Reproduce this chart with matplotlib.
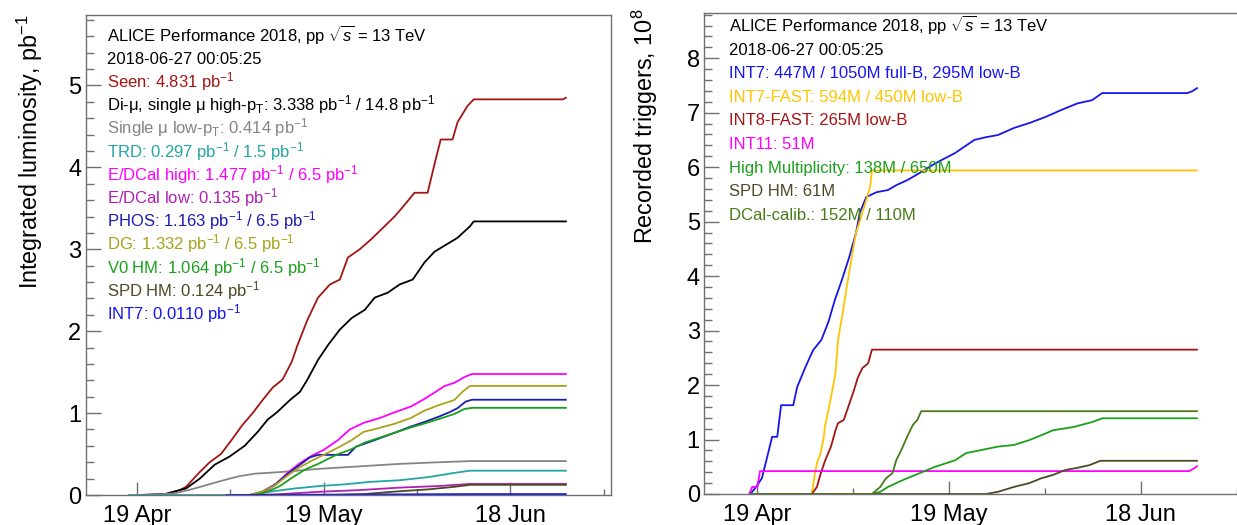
"""
Luminosidad integrada y triggers registrados, ALICE pp 2018 (hasta el 27 de junio).
Dos paneles lado a lado, estilo ROOT.
"""

import numpy as np
import matplotlib
matplotlib.use("Agg")  # sin entorno gráfico
import matplotlib.pyplot as plt
import matplotlib.dates as mdates
from matplotlib.ticker import FixedLocator, MultipleLocator

plt.rcParams["font.family"] = ["Liberation Sans", "DejaVu Sans"]
plt.rcParams["mathtext.fontset"] = "custom"
plt.rcParams["mathtext.rm"] = "Liberation Sans"
plt.rcParams["mathtext.it"] = "Liberation Sans:italic"
plt.rcParams["mathtext.bf"] = "Liberation Sans:bold"

# días contados desde el 19 de abril de 2018
T0 = np.datetime64("2018-04-19T00:00")
MAJOR_DAYS = [0, 30, 60]          # 19 Apr, 19 May, 18 Jun
MINOR_DAYS = [15, 45, 75]
X_RANGE = [-8.25, 76.15]

# ---- panel izquierdo: luminosidad integrada (pb^-1) ----
SEEN_D = [0.5, 4.5, 6.9, 7.9, 10.1, 11.7, 13.5, 15.2, 16.9, 18.6, 20.2, 21.8, 23.4, 24.9,
          25.8, 27.4, 29.1, 31.0, 32.6, 33.9, 35.8, 37.6, 39.5, 41.4, 43.3, 44.6, 46.7,
          48.0, 48.8, 50.7, 51.5, 53.1, 54.1, 68.4, 68.9]
SEEN_V = [0, 0.01, 0.06, 0.1, 0.28, 0.4, 0.5, 0.67, 0.85, 1.0, 1.16, 1.31, 1.41, 1.63,
          1.83, 2.14, 2.41, 2.57, 2.63, 2.9, 3.0, 3.12, 3.26, 3.4, 3.57, 3.69, 3.69,
          4.1, 4.34, 4.34, 4.55, 4.75, 4.83, 4.83, 4.85]

DIMU_D = [0.5, 4.5, 7.9, 10.1, 12.5, 14.9, 17.3, 19.4, 21.0, 22.5, 24.6, 26.2, 27.4, 29.1,
          30.7, 32.6, 34.5, 36.6, 38.2, 40.3, 42.2, 44.3, 46.2, 47.8, 49.1, 51.5, 53.5,
          54.1, 68.9]
DIMU_V = [0, 0.01, 0.08, 0.2, 0.37, 0.47, 0.6, 0.77, 0.92, 1.01, 1.16, 1.26, 1.41, 1.65,
          1.83, 2.02, 2.16, 2.26, 2.41, 2.47, 2.57, 2.63, 2.84, 2.97, 3.03, 3.14, 3.28,
          3.34, 3.34]

MULOW_D = [2.0, 6.1, 9.3, 12.5, 14.9, 16.5, 18.9, 23.0, 29.4, 35.8, 42.2, 48.6, 53.5, 68.9]
MULOW_V = [0, 0.02, 0.08, 0.15, 0.2, 0.23, 0.26, 0.28, 0.32, 0.35, 0.38, 0.40, 0.414, 0.414]

TRD_D = [-1.3, 18.1, 21.3, 25.4, 29.4, 33.4, 37.4, 42.2, 47.0, 51.0, 53.5, 68.9]
TRD_V = [0, 0, 0.04, 0.08, 0.11, 0.13, 0.16, 0.18, 0.22, 0.27, 0.297, 0.297]

EMCH_D = [18.6, 20.1, 22.2, 24.2, 26.2, 28.1, 30.0, 32.3, 34.2, 36.4, 39.0, 41.4, 44.0,
          45.9, 47.8, 49.4, 51.0, 52.6, 53.8, 68.9]
EMCH_V = [0, 0.02, 0.12, 0.27, 0.39, 0.48, 0.55, 0.67, 0.8, 0.88, 0.94, 1.01, 1.08,
          1.16, 1.25, 1.33, 1.37, 1.44, 1.477, 1.477]

EMCL_D = [18.9, 23.0, 29.4, 35.8, 42.2, 48.6, 53.5, 68.9]
EMCL_V = [0, 0.01, 0.04, 0.06, 0.09, 0.11, 0.135, 0.135]

PHOS_D = [18.1, 20.1, 22.2, 24.6, 26.2, 27.8, 29.1, 33.9, 35.2, 38.2, 41.4, 43.8, 46.5,
          48.6, 50.2, 51.5, 52.8, 53.8, 68.9]
PHOS_V = [0, 0.04, 0.13, 0.28, 0.37, 0.46, 0.49, 0.49, 0.59, 0.67, 0.76, 0.83, 0.9,
          0.96, 1.01, 1.06, 1.14, 1.163, 1.163]

DG_D = [18.1, 20.1, 22.2, 24.6, 26.2, 28.1, 30.0, 32.6, 34.5, 36.4, 39.0, 41.4, 44.0,
        46.2, 48.6, 51.0, 52.3, 53.5, 68.9]
DG_V = [0, 0.04, 0.12, 0.26, 0.34, 0.42, 0.49, 0.59, 0.67, 0.77, 0.82, 0.87, 0.94,
        1.03, 1.10, 1.16, 1.26, 1.332, 1.332]

V0HM_D = [18.9, 21.0, 23.0, 24.9, 27.0, 29.4, 32.0, 34.2, 36.6, 39.0, 41.4, 43.8, 46.5,
          48.6, 51.0, 52.6, 53.8, 68.9]
V0HM_V = [0, 0.04, 0.11, 0.21, 0.31, 0.39, 0.49, 0.55, 0.64, 0.7, 0.76, 0.82, 0.88,
          0.93, 0.99, 1.05, 1.064, 1.064]

SPDL_D = [18.9, 31.5, 36.3, 41.1, 47.0, 51.0, 53.5, 68.9]
SPDL_V = [0, 0, 0.01, 0.04, 0.07, 0.1, 0.124, 0.124]

INT7L_D = [14.4, 53.5, 68.9]
INT7L_V = [0, 0.011, 0.011]

# ---- panel derecho: triggers registrados (10^8) ----
INT7_D = [-1.0, -0.1, 0.8, 1.5, 2.4, 3.2, 3.8, 5.7, 6.3, 7.6, 8.8, 10.1, 11.2, 12.2,
          13.3, 14.4, 15.5, 16.1, 17.1, 18.7, 20.5, 21.8, 23.5, 25.4, 27.9, 31.0, 34.0,
          35.8, 37.7, 40.2, 42.6, 45.1, 47.6, 50.1, 52.4, 54.0, 67.3, 68.0, 68.8]
INT7_V = [0, 0.13, 0.29, 0.62, 1.05, 1.05, 1.63, 1.63, 1.96, 2.33, 2.64, 2.83, 3.16, 3.56,
          3.93, 4.33, 4.79, 5.16, 5.45, 5.54, 5.58, 5.67, 5.76, 5.89, 6.07, 6.26, 6.5,
          6.55, 6.59, 6.72, 6.81, 6.92, 7.05, 7.17, 7.23, 7.36, 7.36, 7.39, 7.45]

FAST7_D = [8.6, 9.1, 9.4, 9.9, 10.4, 10.7, 11.2, 11.6, 12.3, 12.7, 13.5, 14.1, 14.9,
           15.5, 16.5, 17.1, 17.7, 18.0, 68.8]
FAST7_V = [0, 0.38, 0.57, 0.72, 0.99, 1.27, 1.54, 1.78, 2.22, 2.83, 3.38, 3.83, 4.39,
           4.79, 5.16, 5.39, 5.63, 5.94, 5.94]

FAST8_D = [8.6, 9.4, 10.0, 10.7, 11.6, 12.3, 12.7, 13.6, 14.3, 15.2, 15.8, 16.5, 17.4,
           18.0, 68.8]
FAST8_V = [0, 0.13, 0.38, 0.62, 0.87, 1.17, 1.3, 1.36, 1.6, 1.91, 2.14, 2.31, 2.4,
           2.65, 2.65]

INT11_D = [-1.2, -0.7, 0.1, 0.5, 67.6, 68.2, 68.8]
INT11_V = [0, 0.13, 0.13, 0.42, 0.42, 0.46, 0.51]

HM_D = [18.0, 19.3, 20.5, 22.9, 25.4, 27.9, 31.0, 32.7, 35.2, 37.7, 40.2, 42.6, 44.5,
        46.3, 49.5, 52.4, 54.0, 68.8]
HM_V = [0, 0.04, 0.13, 0.26, 0.38, 0.5, 0.62, 0.75, 0.81, 0.87, 0.9, 0.99, 1.08,
        1.17, 1.23, 1.32, 1.39, 1.39]

SPDR_D = [-1.0, 35.8, 37.7, 40.2, 42.6, 44.5, 46.3, 48.2, 50.1, 52.0, 53.7, 68.8]
SPDR_V = [0, 0, 0.04, 0.13, 0.2, 0.29, 0.35, 0.44, 0.48, 0.53, 0.61, 0.61]

DCAL_D = [-1.0, 18.0, 19.3, 20.2, 21.2, 21.8, 22.6, 23.5, 24.4, 25.1, 25.7, 68.8]
DCAL_V = [0, 0, 0.13, 0.29, 0.38, 0.62, 0.81, 1.05, 1.27, 1.36, 1.52, 1.52]

# colores tipo ROOT
C_DRED = "#a31515"
C_GRAY = "#858585"
C_TEAL = "#22a5a5"
C_MAG = "#ff00ff"
C_PURP = "#b020b0"
C_DBLUE = "#1c1cb0"
C_OLIVE = "#aaa21a"
C_GREEN = "#1aa01a"
C_DOLIVE = "#4d4a26"
C_BLUE = "#1515ee"
C_GOLD = "#ffc400"
C_DCAL = "#487a18"
FRAME = "#707070"

W, H = 1237, 525

LEFT_SERIES = [
    (SEEN_D, SEEN_V, C_DRED, r"Seen: 4.831 pb$^{-1}$"),
    (DIMU_D, DIMU_V, "black", r"Di-μ, single μ high-p$_{\mathrm{T}}$: 3.338 pb$^{-1}$ / 14.8 pb$^{-1}$"),
    (MULOW_D, MULOW_V, C_GRAY, r"Single μ low-p$_{\mathrm{T}}$: 0.414 pb$^{-1}$"),
    (TRD_D, TRD_V, C_TEAL, r"TRD: 0.297 pb$^{-1}$ / 1.5 pb$^{-1}$"),
    (EMCH_D, EMCH_V, C_MAG, r"E/DCal high: 1.477 pb$^{-1}$ / 6.5 pb$^{-1}$"),
    (EMCL_D, EMCL_V, C_PURP, r"E/DCal low: 0.135 pb$^{-1}$"),
    (PHOS_D, PHOS_V, C_DBLUE, r"PHOS: 1.163 pb$^{-1}$ / 6.5 pb$^{-1}$"),
    (DG_D, DG_V, C_OLIVE, r"DG: 1.332 pb$^{-1}$ / 6.5 pb$^{-1}$"),
    (V0HM_D, V0HM_V, C_GREEN, r"V0 HM: 1.064 pb$^{-1}$ / 6.5 pb$^{-1}$"),
    (SPDL_D, SPDL_V, C_DOLIVE, r"SPD HM: 0.124 pb$^{-1}$"),
    (INT7L_D, INT7L_V, C_BLUE, r"INT7: 0.0110 pb$^{-1}$"),
]

RIGHT_SERIES = [
    (INT7_D, INT7_V, C_BLUE, "INT7: 447M / 1050M full-B, 295M low-B"),
    (FAST7_D, FAST7_V, C_GOLD, "INT7-FAST: 594M / 450M low-B"),
    (FAST8_D, FAST8_V, C_DRED, "INT8-FAST: 265M low-B"),
    (INT11_D, INT11_V, C_MAG, "INT11: 51M"),
    (HM_D, HM_V, C_GREEN, "High Multiplicity: 138M / 650M"),
    (SPDR_D, SPDR_V, C_DOLIVE, "SPD HM: 61M"),
    (DCAL_D, DCAL_V, C_DCAL, "DCal-calib.: 152M / 110M"),
]

HEADER = [r"ALICE Performance 2018, pp $\sqrt{s}$ = 13 TeV", "2018-06-27 00:05:25"]


def to_dates(days):
    return T0 + (np.asarray(days, dtype=float) * 86400).astype("timedelta64[s]")


def px_box(x0, y0, x1, y1):
    # caja en píxeles (origen arriba-izquierda) -> fracción de figura
    return [x0 / W, 1 - y1 / H, (x1 - x0) / W, (y1 - y0) / H]


def setup_axes(ax, ymax):
    ax.set_xlim(mdates.date2num(to_dates(X_RANGE)))
    ax.set_ylim(0, ymax)
    ax.xaxis.set_major_locator(FixedLocator(mdates.date2num(to_dates(MAJOR_DAYS))))
    ax.xaxis.set_minor_locator(FixedLocator(mdates.date2num(to_dates(MINOR_DAYS))))
    ax.xaxis.set_major_formatter(mdates.DateFormatter("%d %b"))
    ax.yaxis.set_major_locator(MultipleLocator(1))
    ax.yaxis.set_minor_locator(MultipleLocator(0.2))
    ax.tick_params(which="both", direction="in", top=False, right=False,
                   color=FRAME, width=1.0, labelsize=17)
    ax.tick_params(axis="y", which="major", length=11, pad=3)
    ax.tick_params(axis="y", which="minor", length=5.5)
    ax.tick_params(axis="x", which="major", length=9.5, pad=7)
    ax.tick_params(axis="x", which="minor", length=4.5)
    for sp in ax.spines.values():
        sp.set_color(FRAME)
        sp.set_linewidth(1.0)


def draw_panel(ax, series, text_x, text_y0, step):
    for d, v, color, _ in series:
        ax.plot(to_dates(d), v, color=color, lw=1.3)
    lines = [(t, "black") for t in HEADER] + [(lab, c) for _, _, c, lab in series]
    for i, (txt, color) in enumerate(lines):
        y = text_y0 + i * step + 6
        ax.figure.text(text_x / W, 1 - y / H, txt, color=color, fontsize=12,
                       ha="left", va="baseline")


def main():
    fig = plt.figure(figsize=(W / 100, H / 100), dpi=100)

    ax1 = fig.add_axes(px_box(85.5, 15, 611, 495))
    setup_axes(ax1, 5.86)
    draw_panel(ax1, LEFT_SERIES, 107, 35, 23.2)
    fig.text(30 / W, 1 - 14 / H, r"Integrated luminosity, pb$^{-1}$", rotation=90,
             ha="center", va="top", fontsize=16.8)

    # el marco derecho queda un poco fuera de la imagen, como en el original
    ax2 = fig.add_axes(px_box(704, 13, 1244, 494))
    setup_axes(ax2, 8.83)
    draw_panel(ax2, RIGHT_SERIES, 729, 25, 23.6)
    fig.text(645 / W, 1 - 9 / H, r"Recorded triggers, 10$^{8}$", rotation=90,
             ha="center", va="top", fontsize=16.8)

    fig.savefig("out.png", dpi=100)
    plt.close(fig)


if __name__ == "__main__":
    main()
